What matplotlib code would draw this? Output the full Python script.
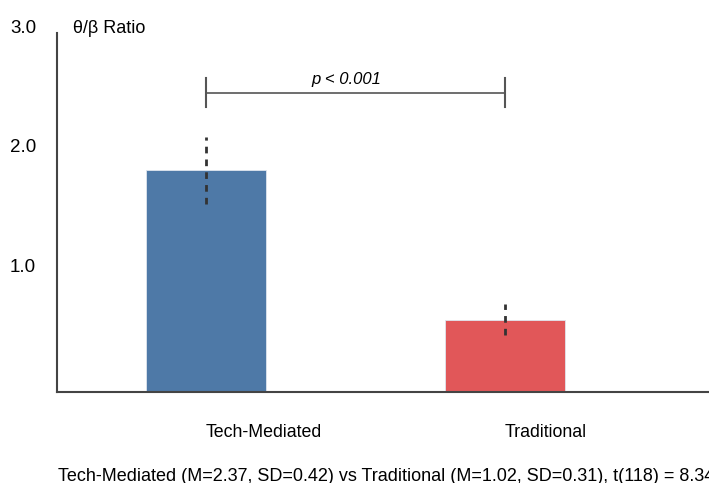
import matplotlib
matplotlib.use("Agg")
import matplotlib.pyplot as plt
import matplotlib.transforms as mtransforms

plt.rcParams['font.family'] = ['Liberation Sans', 'DejaVu Sans']

groups = ["Tech-Mediated", "Traditional"]
ratio = [1.85, 0.60]
err = [0.28, 0.13]
colors = ["#4E79A7", "#E15759"]
yticks = [1.0, 2.0, 3.0]
p_label = "p < 0.001"
bracket_y = 2.5
summary = "Tech-Mediated (M=2.37, SD=0.42) vs Traditional (M=1.02, SD=0.31), t(118) = 8.34"

W, H = 709, 483
fig = plt.figure(figsize=(W / 100, H / 100), dpi=100)
ax = fig.add_axes([57 / W, (H - 391.5) / H, 1 - 57 / W, (391.5 - 33) / H])

x = list(range(len(groups)))
ax.bar(x, ratio, width=0.4, color=colors, edgecolor="#dfe6ee", linewidth=0.6, zorder=2)
ax.vlines(x, [r - e for r, e in zip(ratio, err)], [r + e for r, e in zip(ratio, err)],
          colors="#333333", linewidth=2.0, linestyles=(0, (2.4, 2.2)), zorder=3)

# significance bracket
ax.plot([x[0], x[1]], [bracket_y, bracket_y], color="#555555", lw=1.2, clip_on=False)
for xi in x:
    ax.plot([xi, xi], [bracket_y - 0.12, bracket_y + 0.12], color="#555555", lw=1.5, clip_on=False)
ax.text(0.47, bracket_y + 0.07, p_label, style="italic", fontsize=12, ha="center", va="baseline")

ax.set_xlim(-0.498, 1.682)
ax.set_ylim(0, 3.0)

for s in ["top", "right"]:
    ax.spines[s].set_visible(False)
for s in ["left", "bottom"]:
    ax.spines[s].set_color("#444444")
    ax.spines[s].set_linewidth(1.5)

ax.set_xticks([])
ax.set_yticks([])
for t in yticks:
    ax.text(-21 / 299 - 0.498, t, f"{t:.1f}", fontsize=13.5, ha="right", va="baseline")
ax.text(-0.498 + 16 / 299, 3.0, "θ/β Ratio", fontsize=13, ha="left", va="baseline")

# category labels, left-aligned at bar centres
lab_tr = mtransforms.blended_transform_factory(ax.transData, fig.transFigure)
for xi, g in zip(x, groups):
    ax.text(xi, (H - 437) / H, g, transform=lab_tr, fontsize=12.8, ha="left", va="baseline")

fig.text(58 / W, (H - 481) / H, summary, fontsize=13, ha="left", va="baseline")

fig.savefig("out.png", dpi=100)
